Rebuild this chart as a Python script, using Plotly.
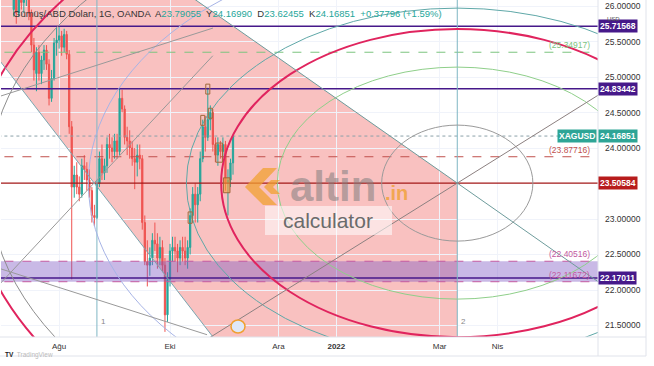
import numpy as np
import plotly.graph_objects as go

# ---------------- data ----------------
dates = [
 "2021-07-07","2021-07-08","2021-07-09","2021-07-12","2021-07-13","2021-07-14","2021-07-15","2021-07-16",
 "2021-07-19","2021-07-20","2021-07-21","2021-07-22","2021-07-23","2021-07-26","2021-07-27","2021-07-28",
 "2021-07-29","2021-07-30","2021-08-02","2021-08-03","2021-08-04","2021-08-05","2021-08-06","2021-08-09",
 "2021-08-10","2021-08-11","2021-08-12","2021-08-13","2021-08-16","2021-08-17","2021-08-18","2021-08-19",
 "2021-08-20","2021-08-23","2021-08-24","2021-08-25","2021-08-26","2021-08-27","2021-08-30","2021-08-31",
 "2021-09-01","2021-09-02","2021-09-03","2021-09-06","2021-09-07","2021-09-08","2021-09-09","2021-09-10",
 "2021-09-13","2021-09-14","2021-09-15","2021-09-16","2021-09-17","2021-09-20","2021-09-21","2021-09-22",
 "2021-09-23","2021-09-24","2021-09-27","2021-09-28","2021-09-29","2021-09-30","2021-10-01","2021-10-04",
 "2021-10-05","2021-10-06","2021-10-07","2021-10-08","2021-10-11","2021-10-12","2021-10-13","2021-10-14",
 "2021-10-15","2021-10-18","2021-10-19","2021-10-20","2021-10-21","2021-10-22","2021-10-25","2021-10-26",
 "2021-10-27","2021-10-28","2021-10-29","2021-11-01","2021-11-02","2021-11-03","2021-11-04","2021-11-05"]
opens = [25.95,26.10,25.90,26.20,26.05,26.15,26.30,25.90,25.45,25.05,25.35,25.05,25.24,25.38,25.18,24.70,
 24.98,25.48,25.52,25.58,25.42,25.60,25.32,24.30,23.45,23.62,23.45,23.35,23.75,23.70,23.55,23.40,
 23.05,23.02,23.50,23.85,23.65,23.75,24.05,24.00,23.95,24.10,23.95,24.70,24.55,24.15,24.10,24.00,
 23.85,23.80,23.90,23.85,22.95,22.40,22.35,22.45,22.70,22.65,22.45,22.60,22.35,21.65,22.15,22.55,
 22.60,22.55,22.45,22.60,22.55,22.45,22.60,23.05,23.35,23.20,23.35,23.85,24.30,24.15,24.40,24.50,
 24.05,23.90,24.05,23.95,24.05,23.50,23.55,23.79055]
highs = [26.25,26.20,26.30,26.30,26.35,26.45,26.35,25.95,25.55,25.42,25.45,25.30,25.45,25.45,25.25,25.10,
 25.55,25.70,25.72,25.65,25.68,25.65,25.38,24.38,23.75,23.80,23.60,23.85,23.90,23.80,23.70,23.45,
 23.20,23.55,23.95,24.05,23.85,24.15,24.20,24.15,24.20,24.20,24.85,24.82,24.60,24.30,24.25,24.10,
 24.00,24.05,24.05,23.90,23.05,22.70,22.60,22.80,22.95,22.80,22.75,22.70,22.45,22.25,22.65,22.75,
 22.75,22.65,22.70,22.75,22.75,22.70,23.15,23.45,23.50,23.45,23.95,24.40,24.45,24.85,24.60,24.55,
 24.15,24.15,24.10,24.15,24.10,23.70,23.85,24.16990]
lows = [25.85,25.75,25.85,25.95,25.90,26.00,25.80,25.35,24.95,24.80,24.95,24.90,25.10,25.10,24.60,24.65,
 24.95,25.30,25.40,25.30,25.35,25.25,24.20,22.15,23.30,23.35,23.25,23.30,23.55,23.40,23.30,22.95,
 22.90,23.00,23.45,23.55,23.55,23.65,23.85,23.80,23.85,23.85,23.90,24.50,24.05,23.90,23.85,23.75,
 23.42,23.60,23.70,22.85,22.35,22.05,22.20,22.35,22.55,22.30,22.35,22.25,21.41,21.55,22.05,22.40,
 22.40,22.25,22.35,22.40,22.35,22.30,22.50,22.95,22.95,22.95,23.25,23.80,23.95,24.10,24.25,23.95,
 23.80,23.75,23.85,23.85,23.40,23.05,23.45,23.62455]
closes = [26.10,25.90,26.20,26.05,26.15,26.30,25.90,25.45,25.10,25.35,25.05,25.24,25.38,25.18,24.70,24.98,
 25.48,25.52,25.58,25.42,25.60,25.32,24.30,23.45,23.62,23.45,23.35,23.75,23.70,23.55,23.40,23.05,
 23.02,23.50,23.85,23.65,23.75,24.05,24.00,23.95,24.10,23.95,24.70,24.55,24.15,24.10,24.00,23.85,
 23.80,23.90,23.85,22.95,22.40,22.35,22.45,22.70,22.65,22.45,22.60,22.35,21.65,22.15,22.55,22.60,
 22.55,22.45,22.60,22.55,22.45,22.60,23.05,23.35,23.20,23.35,23.85,24.30,24.15,24.40,24.50,24.05,
 23.90,24.05,23.95,24.05,23.50,23.55,23.79055,24.16851]

tick_dates = ["2021-08-02","2021-10-01","2021-12-01","2022-01-03","2022-03-01","2022-04-01"]
tick_text = ["Ağu","Eki","Ara","<b>2022</b>","Mar","Nis"]
price_ticks = [21.5,22.0,22.5,23.0,24.0,24.5,25.0,25.5,26.0]

# drawings (TradingView objects) in price / date terms
level_purple = [25.71568, 24.83442, 22.17011]
level_red = 23.50584
last_price = 24.16851
fib_levels = [25.34917, 23.87716, 22.40516, 22.11672]
fib_colors = ["#7cc47f", "#c0504d", "#c45aa0", "#c45aa0"]
center_date = "2022-03-10"
vline_dates = ["2021-08-23", "2022-03-10"]
ell_rx = [30, 71.4, 93.7, 107.5, 146.4, 186, 193]         # bars
ell_ry = [0.817, 1.634, 2.17, 2.465, 3.352, 4.225, 4.408]  # price units
ell_col = ["#9a9a9a", "#8fcf8a", "#e0245e", "#5fa8a8", "#a7b4e6", "#8d8d8d", "#e0245e"]
ell_w = [1, 1, 2, 1, 1, 1, 2]
# small pattern boxes: (first date, last date, low price, high price)
mark_boxes = [("2021-10-22", "2021-10-22", 24.76, 24.90), ("2021-10-25", "2021-10-25", 24.42, 24.56),
              ("2021-10-20", "2021-10-20", 24.32, 24.46), ("2021-10-28", "2021-10-29", 23.80, 24.07),
              ("2021-10-13", "2021-10-13", 22.94, 23.10)]
orange_box = ("2021-11-02", "2021-11-03", 23.37, 23.58)

REF = np.datetime64("2021-10-01")
def bar(d):
    return int(np.busday_count(REF, np.datetime64(d)))

xi = [bar(d) for d in dates]
xc = bar(center_date)

fig = go.Figure()
fig.add_trace(go.Candlestick(
    x=xi, open=opens, high=highs, low=lows, close=closes,
    increasing=dict(line=dict(color="#26a69a", width=1), fillcolor="#26a69a"),
    decreasing=dict(line=dict(color="#ef5350", width=1), fillcolor="#ef5350"),
    whiskerwidth=0, showlegend=False, hoverinfo="skip"))

L, R, T, B = 1, 598, 0, 337
XMIN, XMAX = (L - 170) / 2.52, (R - 170) / 2.52
YMIN, YMAX = 21.338, 26.085

shapes = []
# pink channel area
s_up = 0.02485    # price per bar, upper edge
pA = (-80, 26.5)
pB = (xc - (26.5 - level_red) / s_up, 26.5)
pC = (xc, level_red)
pD = (xc, 21.0)
s_lo = (21.338 - 25.099) / (17.06 + 64.7)
pE = (17.06 + (21.0 - 21.338) / s_lo, 21.0)
pF = (-80, 25.099 + (-80 + 64.7) * s_lo)
path = "M {} {} L {} {} L {} {} L {} {} L {} {} L {} {} Z".format(*pA, *pB, *pC, *pD, *pE, *pF)
shapes.append(dict(type="path", path=path, xref="x", yref="y", layer="below",
                   fillcolor="rgba(239,83,80,0.36)", line=dict(width=0)))

# purple band
shapes.append(dict(type="rect", xref="x", yref="y", x0=-80, x1=200, y0=fib_levels[3], y1=fib_levels[2],
                   fillcolor="rgba(126,88,196,0.42)", line=dict(width=0), layer="above"))

def hline(y, color, width=1, dash="solid"):
    shapes.append(dict(type="line", xref="x", yref="y", x0=-80, x1=200, y0=y, y1=y,
                       line=dict(color=color, width=width, dash=dash), layer="above"))

for lv, c in zip(fib_levels, fib_colors):
    hline(lv, c, 1, "dash")
hline(last_price, "#8aa0a8", 1, "dot")
for lv in level_purple:
    hline(lv, "#46198a", 1.6)
hline(level_red, "#a31919", 1.3)

for d in vline_dates:
    shapes.append(dict(type="line", xref="x", yref="y", x0=bar(d), x1=bar(d), y0=20, y1=27,
                       line=dict(color="#7fb6c4", width=1), layer="above"))

# ellipses
for rx, ry, c, w in zip(ell_rx, ell_ry, ell_col, ell_w):
    shapes.append(dict(type="circle", xref="x", yref="y", x0=xc - rx, x1=xc + rx,
                       y0=level_red - ry, y1=level_red + ry, line=dict(color=c, width=w), layer="above"))

def seg(x0, y0, x1, y1, color, width=1):
    shapes.append(dict(type="line", xref="x", yref="y", x0=x0, y0=y0, x1=x1, y1=y1,
                       line=dict(color=color, width=width), layer="above"))

# channel edges / fan lines
seg(pB[0], pB[1], 200, level_red - s_up * (200 - xc), "#6e9c9c")
seg(pF[0], pF[1], pE[0], pE[1], "#7aa6b0")
s_x2 = 0.02215
seg(xc - (level_red - 21.0) / s_x2, 21.0, 200, level_red + s_x2 * (200 - xc), "#8c8080")
seg(-70, 24.70, 17.06, 25.69, "#999999")
seg(-70, 21.99, 17.0, 25.30, "#999999")
seg(-70, 22.33, 14.7, 21.37, "#999999")

# pattern boxes
for d0, d1, lo, hi in mark_boxes:
    shapes.append(dict(type="rect", xref="x", yref="y", x0=bar(d0) - 0.8, x1=bar(d1) + 0.8, y0=lo, y1=hi,
                       line=dict(color="#a0683a", width=1), fillcolor="rgba(0,0,0,0)", layer="above"))
shapes.append(dict(type="rect", xref="x", yref="y", x0=bar(orange_box[0]) - 0.8, x1=bar(orange_box[1]) + 0.8,
                   y0=orange_box[2], y1=orange_box[3], line=dict(color="#a0683a", width=1),
                   fillcolor="rgba(245,160,60,0.6)", layer="above"))

# ---------- layout-only decorations (pixel helpers) ----------
def px(x): return (x - L) / (R - L)
def py(y): return 1 - (y - T) / (B - T)

def ppath(pts):
    return "M " + " L ".join("{:.4f} {:.4f}".format(px(a), py(b)) for a, b in pts) + " Z"
shapes.append(dict(type="path", xref="paper", yref="paper", layer="above",
                   path=ppath([(263, 168), (277, 168), (259, 187), (277, 205), (263, 205), (245, 187)]),
                   fillcolor="rgba(240,160,50,0.75)", line=dict(width=0)))
shapes.append(dict(type="path", xref="paper", yref="paper", layer="above",
                   path=ppath([(271, 180), (280, 180), (273, 187), (280, 194), (271, 194), (264, 187)]),
                   fillcolor="rgba(240,160,50,0.75)", line=dict(width=0)))
shapes.append(dict(type="rect", xref="paper", yref="paper", x0=px(265), x1=px(392), y0=py(235), y1=py(206),
                   fillcolor="rgba(255,255,255,0.55)", line=dict(width=0), layer="above"))
shapes.append(dict(type="circle", xref="paper", yref="paper", x0=px(231), x1=px(245), y0=py(333), y1=py(320),
                   fillcolor="#dfe8f8", line=dict(color="#f0a030", width=1.5), layer="above"))

for (x0, y0, x1, y1) in [(0, 337, 646, 337), (598, 0, 598, 356), (0, 356, 646, 356), (646, 0, 646, 356)]:
    shapes.append(dict(type="line", xref="paper", yref="paper", x0=px(x0), y0=py(y0), x1=px(x1), y1=py(y1),
                       line=dict(color="#e0e3eb", width=1), layer="above"))

ann = []
ann.append(dict(xref="paper", yref="paper", x=px(288), y=py(186), xanchor="left", yanchor="middle",
                text="<b>altin</b>", showarrow=False,
                font=dict(family="Liberation Sans, Arial", size=42, color="rgba(125,125,125,0.55)")))
ann.append(dict(xref="paper", yref="paper", x=px(383), y=py(193), xanchor="left", yanchor="middle",
                text="<b>.in</b>", showarrow=False,
                font=dict(family="Liberation Sans, Arial", size=20, color="rgba(240,160,50,0.8)")))
ann.append(dict(xref="paper", yref="paper", x=px(328), y=py(220), xanchor="center", yanchor="middle",
                text="calculator", showarrow=False,
                font=dict(family="Liberation Sans, Arial", size=21, color="#6b6b6b")))

hdr = ("Gümüş/ABD Doları, 1G, OANDA  A<span style='color:#26a69a'>23.79055</span>  "
       "Y<span style='color:#26a69a'>24.16990</span>  D<span style='color:#26a69a'>23.62455</span>  "
       "K<span style='color:#26a69a'>24.16851</span>  <span style='color:#26a69a'>+0.37796 (+1.59%)</span>")
ann.append(dict(xref="paper", yref="paper", x=px(11), y=py(14), xanchor="left", yanchor="middle",
                text=hdr, showarrow=False, font=dict(family="Liberation Sans, Arial", size=9.5, color="#333")))

def box(y, text, bg, xshift=0, anchor="left"):
    ann.append(dict(xref="paper", yref="y", x=1, y=y, xanchor=anchor, yanchor="middle", xshift=xshift,
                    text="<b>" + text + "</b>", showarrow=False, bgcolor=bg, borderpad=1,
                    font=dict(family="Liberation Sans, Arial", size=8.5, color="white")))
for lv in level_purple:
    box(lv, "{:.5f}".format(lv), "#46198a")
box(level_red, "{:.5f}".format(level_red), "#b71c1c")
box(last_price, "{:.5f}".format(last_price), "#2ea596")
box(last_price, "XAGUSD", "#2ea596", xshift=-1, anchor="right")

for lv, c in zip(fib_levels, fib_colors):
    ann.append(dict(xref="paper", yref="y", x=1, y=lv, xanchor="right", yanchor="bottom", xshift=-6,
                    text="({:.5f})".format(lv), showarrow=False,
                    font=dict(family="Liberation Sans, Arial", size=8.5, color=c)))

ann.append(dict(xref="paper", yref="paper", x=px(622), y=py(14), text="USD", showarrow=False,
                font=dict(family="Liberation Sans, Arial", size=6, color="#555")))
for d, t in zip(vline_dates, ["1", "2"]):
    ann.append(dict(xref="x", yref="paper", x=bar(d), y=py(328), xanchor="left", xshift=2, text=t,
                    showarrow=False, font=dict(family="Liberation Sans, Arial", size=8, color="#888")))
ann.append(dict(xref="paper", yref="paper", x=px(3), y=py(361), xanchor="left",
                text="<b>TV</b>  <span style='color:#bbb'>TradingView</span>",
                showarrow=False, font=dict(family="Liberation Sans, Arial", size=6.5, color="#222")))

fig.update_layout(
    width=654, height=366, margin=dict(l=L, r=654 - R, t=T, b=366 - B),
    paper_bgcolor="white", plot_bgcolor="white",
    shapes=shapes, annotations=ann, showlegend=False,
    xaxis=dict(range=[XMIN, XMAX], tickvals=[bar(d) for d in tick_dates], ticktext=tick_text,
               showgrid=True, gridcolor="#f0f3fa", zeroline=False, rangeslider=dict(visible=False),
               tickfont=dict(family="Liberation Sans, Arial", size=8, color="#333"), ticks="",
               ticklabelstandoff=3, showline=False),
    yaxis=dict(range=[YMIN, YMAX], side="right", tickvals=price_ticks,
               ticktext=["{:.5f}".format(v) for v in price_ticks], showgrid=True, gridcolor="#f0f3fa",
               zeroline=False, tickfont=dict(family="Liberation Sans, Arial", size=8.5, color="#333"),
               ticks="", ticklabelstandoff=6, showline=False),
)
fig.write_html("out.html", config={"displayModeBar": False},
               post_script="document.body.style.margin='0px';document.body.style.overflow='hidden';")
